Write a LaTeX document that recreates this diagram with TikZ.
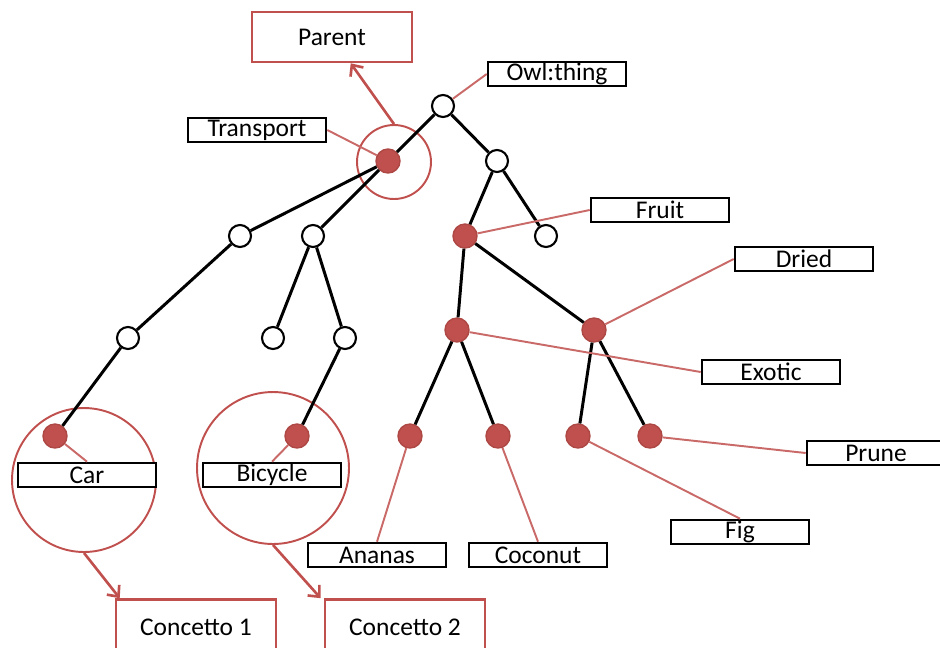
\documentclass[tikz,border=0pt]{standalone}
\usepackage{fontspec}
\setmainfont{Carlito}
\usetikzlibrary{arrows.meta}
\definecolor{ored}{HTML}{C0504D}
\begin{document}
\begin{tikzpicture}[x=0.02cm,y=-0.02cm,
        every node/.style={font=\fontsize{14.5}{16}\selectfont},
        empty/.style={circle,draw=black,line width=1.2pt,fill=white,minimum size=0.44cm,inner sep=0pt},
        full/.style={circle,draw=ored!90!black,line width=0.8pt,fill=ored,minimum size=0.48cm,inner sep=0pt},
        tag/.style={draw=black,line width=1.5pt,fill=white,minimum width=2.76cm,minimum height=0.48cm,inner sep=0pt},
        group/.style={draw=ored,line width=1.5pt,fill=white,minimum width=3.2cm,inner sep=0pt},
        ring/.style={circle,draw=ored,line width=1.1pt,inner sep=0pt},
        edge/.style={line width=1.7pt},
        link/.style={draw=ored!85,line width=1.1pt},
        pointer/.style={draw=ored,line width=1.5pt,-{Straight Barb[length=5pt,width=9pt]}}]
                \useasboundingbox (0,0) rectangle (940,647);

                \node[ring,minimum size=1.48cm] (transring) at (394,162) {};
                \node[ring,minimum size=2.88cm] (carring) at (84,480) {};
                \node[ring,minimum size=3.04cm] (bicring) at (273,468) {};

                \node[group,minimum height=1cm] (parent) at (332,37) {Parent};
                \node[group,minimum height=1.1cm] (con1) at (196,627) {Concetto 1};
                \node[group,minimum height=1.1cm] (con2) at (405,627) {Concetto 2};

                \draw[pointer] (transring.north) -- (parent);
                \draw[pointer] (carring.south) -- ([xshift=0.1cm]con1.north west);
                \draw[pointer] (bicring.south) -- ([xshift=-0.06cm]con2.north west);

                \node[tag] (owl) at (557,74) {Owl:thing};
                \node[tag] (transport) at (257,130) {Transport};
                \node[tag] (fruit) at (660,210) {Fruit};
                \node[tag] (dried) at (804,259) {Dried};
                \node[tag] (exotic) at (771,372) {Exotic};
                \node[tag] (prune) at (876,453) {Prune};
                \node[tag] (fig) at (740,532) {Fig};
                \node[tag] (car) at (87,475) {Car};
                \node[tag] (bicycle) at (272,475) {Bicycle};
                \node[tag] (ananas) at (377,555) {Ananas};
                \node[tag] (coconut) at (538,555) {Coconut};

                \node[empty] (root) at (443,106) {};
                \node[full] (ntransport) at (388,161) {};
                \node[empty] (nb) at (497,161) {};
                \node[empty] (nc) at (240,236) {};
                \node[empty] (nd) at (313,236) {};
                \node[full] (nfruit) at (465,236) {};
                \node[empty] (ne) at (546,236) {};
                \node[empty] (nf) at (128,338) {};
                \node[empty] (ng) at (273,338) {};
                \node[empty] (nh) at (345,338) {};
                \node[full] (nexotic) at (457,330) {};
                \node[full] (ndried) at (594,330) {};
                \node[full] (ncar) at (55,436) {};
                \node[full] (nbicycle) at (297,436) {};
                \node[full] (nananas) at (410,436) {};
                \node[full] (ncoconut) at (498,436) {};
                \node[full] (nfig) at (578,436) {};
                \node[full] (nprune) at (650,436) {};

                \draw[edge] (root) -- (ntransport);   \draw[edge] (root) -- (nb);
                \draw[edge] (ntransport) -- (nc);     \draw[edge] (ntransport) -- (nd);
                \draw[edge] (nb) -- (nfruit);         \draw[edge] (nb) -- (ne);
                \draw[edge] (nc) -- (nf);             \draw[edge] (nd) -- (ng);
                \draw[edge] (nd) -- (nh);             \draw[edge] (nf) -- (ncar);
                \draw[edge] (nh) -- (nbicycle);       \draw[edge] (nfruit) -- (nexotic);
                \draw[edge] (nfruit) -- (ndried);     \draw[edge] (nexotic) -- (nananas);
                \draw[edge] (nexotic) -- (ncoconut);  \draw[edge] (ndried) -- (nfig);
                \draw[edge] (ndried) -- (nprune);

                \draw[link] (owl.west) -- (root);
                \draw[link] (transport.east) -- (ntransport);
                \draw[link] (fruit.west) -- (nfruit);
                \draw[link] (dried.west) -- (ndried);
                \draw[link] (exotic.west) -- (nexotic);
                \draw[link] (prune.west) -- (nprune);
                \draw[link] (fig.north) -- (nfig);
                \draw[link] (car.north) -- (ncar);
                \draw[link] (bicycle.north) -- (nbicycle);
                \draw[link] (ananas.north) -- (nananas);
                \draw[link] (coconut.north) -- (ncoconut);
            \end{tikzpicture}
\end{document}
